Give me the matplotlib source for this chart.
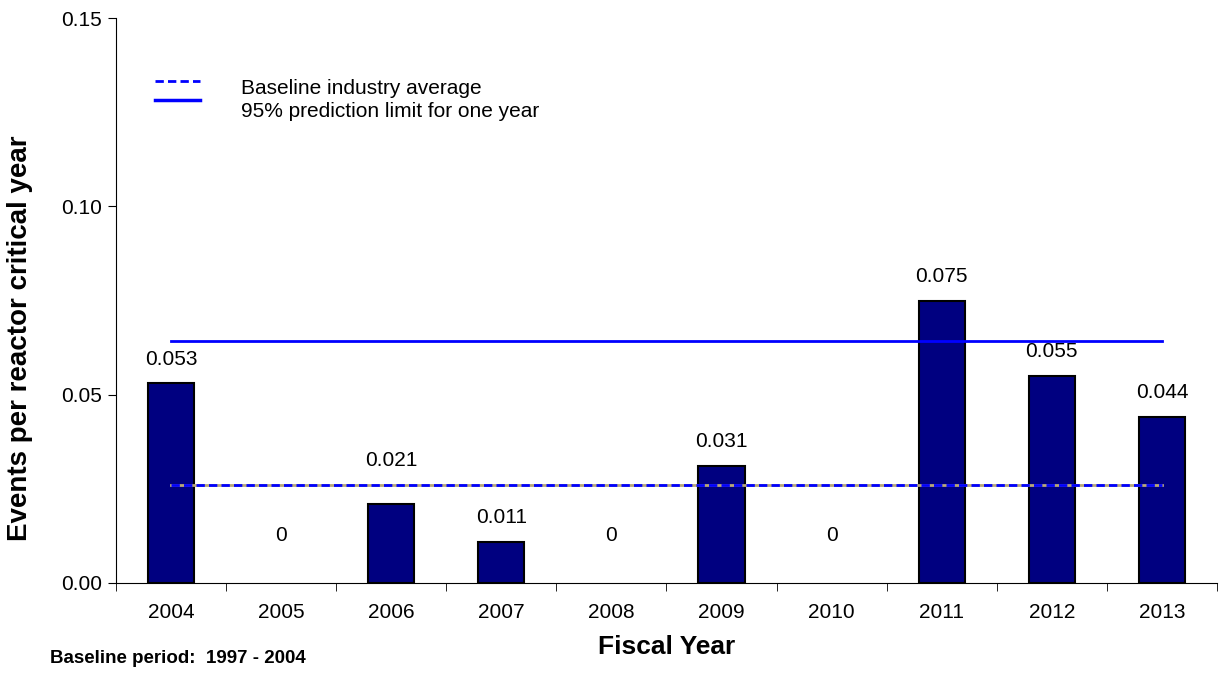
import matplotlib
matplotlib.use("Agg")
import matplotlib.pyplot as plt
import numpy as np

plt.rcParams['font.family'] = ['Liberation Sans', 'DejaVu Sans']

# data
years = ["2004", "2005", "2006", "2007", "2008", "2009", "2010", "2011", "2012", "2013"]
rates = [0.053, 0, 0.021, 0.011, 0, 0.031, 0, 0.075, 0.055, 0.044]
labels = ["0.053", "0", "0.021", "0.011", "0", "0.031", "0", "0.075", "0.055", "0.044"]
baseline_avg = 0.026
pred_limit = 0.0642

fig = plt.figure(figsize=(12.22, 6.75), dpi=100)
ax = fig.add_axes([0.0949, 0.1363, 0.901, 0.837])

x = np.arange(len(years))
lws = [1.5 if v > 0 else 0 for v in rates]
ax.bar(x, rates, width=0.42, color='#000080', edgecolor='black', linewidth=lws, zorder=2)

# labels sit just above the bars, higher where the average line would cross them
for xi, v, lab in zip(x, rates, labels):
    off = 17.5
    if v == 0:
        off = 34.5
    elif lab == "0.021":
        off = 31
    ax.annotate(lab, (xi, v), xytext=(0, off), textcoords='offset points',
                ha='center', va='center', fontsize=15)

# lines across the bar centres
ax.plot([x[0], x[-1]], [pred_limit, pred_limit], color='#0000FF', lw=2, zorder=3)
ax.plot([x[0], x[-1]], [baseline_avg, baseline_avg], color='#B8A878', lw=2, zorder=3)
ax.plot([x[0], x[-1]], [baseline_avg, baseline_avg], color='#0000FF', lw=2,
        dashes=(3, 1.5), zorder=4)

ax.set_xlim(-0.5, len(years) - 0.5)
ax.set_ylim(0, 0.15)
ax.set_yticks([0, 0.05, 0.10, 0.15])
ax.set_yticklabels(["0.00", "0.05", "0.10", "0.15"], fontsize=15)
ax.set_xticks(x)
ax.set_xticklabels(years, fontsize=15)
ax.set_xticks(np.arange(-0.5, len(years)), minor=True)
ax.tick_params(axis='x', which='major', length=0, pad=14.5)
ax.tick_params(axis='x', which='minor', length=6, direction='out')
ax.tick_params(axis='y', length=6, direction='out', pad=4)

ax.spines['top'].set_visible(False)
ax.spines['right'].set_visible(False)

ax.set_xlabel("Fiscal Year", fontsize=19, fontweight='bold', labelpad=9)
ax.set_ylabel("Events per reactor critical year", fontsize=20, fontweight='bold')
ax.yaxis.set_label_coords(-0.0754, 0.434)

# legend drawn by hand like the original
ax.plot([0.0354, 0.0763], [0.8885, 0.8885], transform=ax.transAxes, color='#0000FF',
        lw=2, dashes=(3, 1.5), clip_on=False)
ax.plot([0.0354, 0.0763], [0.855, 0.855], transform=ax.transAxes, color='#0000FF',
        lw=2.5, clip_on=False)
ax.text(0.1135, 0.876, "Baseline industry average", transform=ax.transAxes,
        fontsize=15, va='center')
ax.text(0.1135, 0.835, "95% prediction limit for one year", transform=ax.transAxes,
        fontsize=15, va='center')

fig.text(0.041, 0.018, "Baseline period:  1997 - 2004", fontsize=13.5, fontweight='bold')

fig.savefig("out.png", dpi=100)
